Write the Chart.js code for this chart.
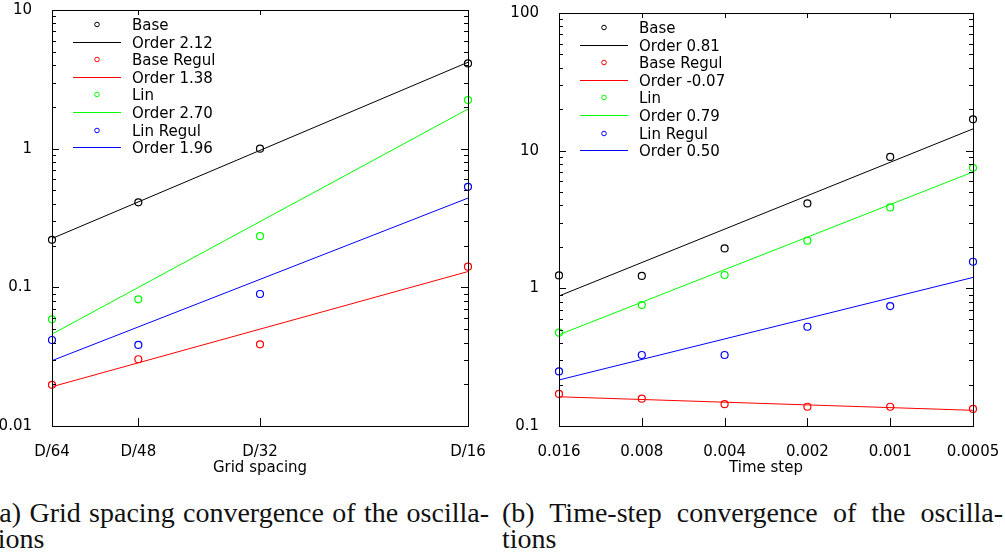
<!DOCTYPE html>
<html>
<head>
<meta charset="UTF-8">
<title>Convergence of the oscillations</title>
<script src="https://cdn.jsdelivr.net/npm/chart.js"></script>
<style>
body{margin:0;background:#fff;width:1005px;height:560px;overflow:hidden;position:relative;}
canvas{position:absolute;top:0;}
#cA{left:0;}
#cB{left:500px;}
.cap{position:absolute;font-family:"Liberation Serif",serif;font-size:28px;line-height:26px;color:#111;white-space:nowrap;}
.cap .l1{text-align:justify;text-align-last:justify;}
</style>
</head>
<body>
<canvas id="cA" width="500" height="490"></canvas>
<canvas id="cB" width="505" height="490"></canvas>
<div class="cap" style="left:-10px;top:500px;width:499px"><div class="l1">(a) Grid spacing convergence of the oscilla-</div><div>tions</div></div>
<div class="cap" style="left:502px;top:500px;width:501px"><div class="l1">(b) Time-step convergence of the oscilla-</div><div>tions</div></div>
<script>
const seriesNames = ['Base', 'Base Regul', 'Lin', 'Lin Regul'];
const seriesColors = ['#000000', '#ff0000', '#00ff00', '#0000ff'];

// (a) grid spacing
const gridLabels = ['D/64', 'D/48', 'D/32', 'D/16'];
const gridH = [1/64, 1/48, 1/32, 1/16];
const baseA = [0.22, 0.41, 1.0, 4.12];
const baseRegulA = [0.0198, 0.0303, 0.0388, 0.141];
const linA = [0.0588, 0.0819, 0.234, 2.24];
const linRegulA = [0.0417, 0.0384, 0.0895, 0.531];
// fitted lines, value at D/64 and at D/16
const fitBaseA = [0.225, 4.2];
const fitBaseRegulA = [0.0192, 0.13];
const fitLinA = [0.046, 1.93];
const fitLinRegulA = [0.0296, 0.44];
const ordersA = ['2.12', '1.38', '2.70', '1.96'];
const yTicksA = [0.01, 0.1, 1, 10];
const yLabelsA = ['0.01', '0.1', '1', '10'];

// (b) time step
const stepLabels = ['0.016', '0.008', '0.004', '0.002', '0.001', '0.0005'];
const steps = [0.016, 0.008, 0.004, 0.002, 0.001, 0.0005];
const baseB = [1.24, 1.23, 1.95, 4.14, 9.0, 16.9];
const baseRegulB = [0.171, 0.158, 0.144, 0.138, 0.138, 0.133];
const linB = [0.476, 0.756, 1.25, 2.22, 3.87, 7.5];
const linRegulB = [0.249, 0.328, 0.328, 0.526, 0.743, 1.56];
// fitted lines, value at 0.016 and at 0.0005
const fitBaseB = [0.88, 14.4];
const fitBaseRegulB = [0.163, 0.13];
const fitLinB = [0.46, 7.0];
const fitLinRegulB = [0.216, 1.2];
const ordersB = ['0.81', '-0.07', '0.79', '0.50'];
const yTicksB = [0.1, 1, 10, 100];
const yLabelsB = ['0.1', '1', '10', '100'];

const FONT = {family: 'DejaVu Sans', size: 15};

function near(a, b) { return Math.abs(a - b) / b < 1e-6; }

// decades plus 2..9 minor ticks
function logTicks(majors) {
  const out = [];
  majors.forEach((m, i) => {
    out.push({value: m, major: true});
    if (i < majors.length - 1) {
      for (let k = 2; k <= 9; k++) out.push({value: m * k, major: false});
    }
  });
  return out;
}

// inward ticks and box around the plot
const framePlugin = {
  id: 'frame',
  afterDatasetsDraw(chart) {
    const {ctx, chartArea: a, scales: {x, y}} = chart;
    ctx.save();
    ctx.strokeStyle = '#000';
    ctx.lineWidth = 1;
    ctx.strokeRect(a.left + 0.5, a.top + 0.5, a.right - a.left, a.bottom - a.top);
    ctx.beginPath();
    y.ticks.forEach(t => {
      const py = Math.round(y.getPixelForValue(t.value)) + 0.5;
      const len = t.major ? 7 : 4;
      ctx.moveTo(a.left, py); ctx.lineTo(a.left + len, py);
      ctx.moveTo(a.right, py); ctx.lineTo(a.right - len, py);
    });
    x.ticks.forEach(t => {
      const px = Math.round(x.getPixelForValue(t.value)) + 0.5;
      ctx.moveTo(px, a.bottom); ctx.lineTo(px, a.bottom - 8);
      ctx.moveTo(px, a.top); ctx.lineTo(px, a.top + 5);
    });
    ctx.stroke();
    ctx.restore();
  }
};

// legend in the upper left corner, one row per dataset
const legendPlugin = {
  id: 'boxLegend',
  afterDraw(chart) {
    const {ctx, chartArea: a} = chart;
    ctx.save();
    ctx.font = '15px "DejaVu Sans"';
    ctx.fillStyle = '#000';
    ctx.textBaseline = 'alphabetic';
    chart.data.datasets.forEach((ds, i) => {
      const ry = Math.round(a.top + 14 + i * 17.6);
      ctx.strokeStyle = ds.borderColor;
      ctx.lineWidth = 1;
      ctx.beginPath();
      if (ds.showLine) {
        ctx.moveTo(a.left + 21, ry + 0.5);
        ctx.lineTo(a.left + 69, ry + 0.5);
      } else {
        ctx.arc(a.left + 45, ry + 0.5, 2.3, 0, Math.PI * 2);
      }
      ctx.stroke();
      ctx.fillText(ds.label, a.left + 80, ry + 6);
    });
    ctx.restore();
  }
};

function makeChart(id, xs, xLabels, xTitle, points, fits, orders, yTicks, yLabels, yWidth, topPad, reverse) {
  const datasets = [];
  const last = xs.length - 1;
  points.forEach((vals, i) => {
    datasets.push({
      label: seriesNames[i],
      data: xs.map((x, j) => ({x: x, y: vals[j]})),
      showLine: false,
      pointRadius: 3.5,
      pointStyle: 'circle',
      borderColor: seriesColors[i],
      backgroundColor: 'rgba(0,0,0,0)',
      borderWidth: 1.2,
      clip: false
    });
    datasets.push({
      label: 'Order ' + orders[i],
      data: [{x: xs[0], y: fits[i][0]}, {x: xs[last], y: fits[i][1]}],
      showLine: true,
      pointRadius: 0,
      borderColor: seriesColors[i],
      backgroundColor: seriesColors[i],
      borderWidth: 1,
      clip: false
    });
  });

  return new Chart(document.getElementById(id), {
    type: 'scatter',
    data: {datasets: datasets},
    options: {
      responsive: false,
      animation: false,
      devicePixelRatio: 1,
      events: [],
      layout: {padding: {left: 0, right: 32, top: topPad, bottom: 0}},
      plugins: {legend: {display: false}, tooltip: {enabled: false}},
      scales: {
        x: {
          type: 'logarithmic',
          reverse: reverse,
          min: Math.min(...xs),
          max: Math.max(...xs),
          bounds: 'data',
          afterBuildTicks: s => { s.ticks = xs.map(v => ({value: v})); },
          afterFit: s => { s.height = 64; s.paddingLeft = 0; s.paddingRight = 0; },
          grid: {display: false},
          border: {display: false},
          ticks: {
            autoSkip: false, maxRotation: 0, padding: 9, color: '#000', font: FONT,
            callback: v => { const k = xs.findIndex(t => near(v, t)); return k >= 0 ? xLabels[k] : ''; }
          },
          title: {display: true, text: xTitle, color: '#000', font: FONT, padding: {top: 0, bottom: 13}}
        },
        y: {
          type: 'logarithmic',
          min: yTicks[0],
          max: yTicks[yTicks.length - 1],
          bounds: 'data',
          afterBuildTicks: s => { s.ticks = logTicks(yTicks); },
          afterFit: s => { s.width = yWidth; s.paddingTop = 0; s.paddingBottom = 0; },
          grid: {display: false},
          border: {display: false},
          ticks: {
            autoSkip: false, padding: 12, color: '#000', font: FONT,
            callback: v => { const k = yTicks.findIndex(t => near(v, t)); return k >= 0 ? yLabels[k] : ''; }
          }
        }
      }
    },
    plugins: [framePlugin, legendPlugin]
  });
}

makeChart('cA', gridH, gridLabels, 'Grid spacing',
  [baseA, baseRegulA, linA, linRegulA],
  [fitBaseA, fitBaseRegulA, fitLinA, fitLinRegulA],
  ordersA, yTicksA, yLabelsA, 52, 10, false);

makeChart('cB', steps, stepLabels, 'Time step',
  [baseB, baseRegulB, linB, linRegulB],
  [fitBaseB, fitBaseRegulB, fitLinB, fitLinRegulB],
  ordersB, yTicksB, yLabelsB, 59, 13, true);
</script>
</body>
</html>
